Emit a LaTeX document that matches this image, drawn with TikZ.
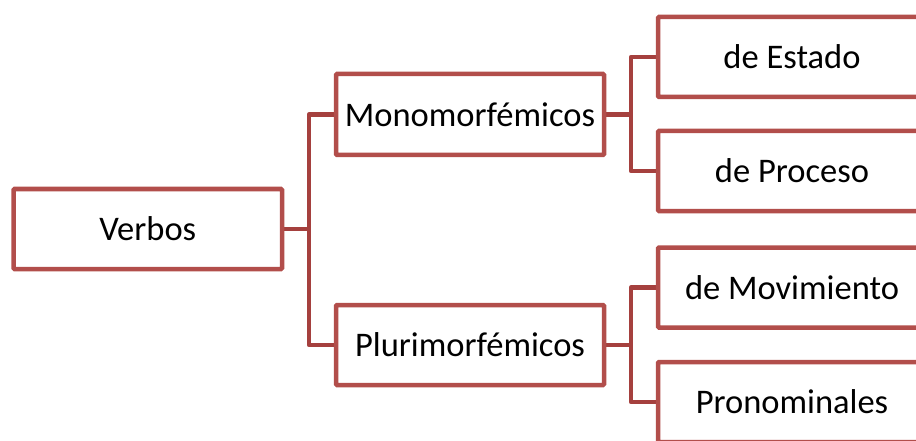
\documentclass[tikz,border=0pt]{standalone}
\usepackage{fontspec}
\setmainfont{Carlito}
\usetikzlibrary{backgrounds}
\definecolor{boxred}{HTML}{B24E4B}
\definecolor{linkred}{HTML}{A5403E}
\begin{document}
\begin{tikzpicture}[x=1pt,y=-1pt,
  box/.style={draw=boxred, line width=4.5pt, fill=white, rounded corners=1pt,
    minimum width=268pt, minimum height=80pt, inner sep=0pt,
    font=\fontsize{34.5}{40}\selectfont, text=black},
  link/.style={draw=linkred, line width=4.5pt, line join=round}]
\useasboundingbox (0,0) rectangle (916,441);

% root
\node[box, minimum width=268.5pt] (verbos) at (147.75,229) {Verbos};

% first level
\node[box, minimum height=81pt] (mono)  at (470,114.5) {Monomorfémicos};
\node[box] (pluri) at (470,345) {Plurimorfémicos};

% second level
\node[box] (estado)  at (792,57)    {de Estado};
\node[box] (proceso) at (792,171)   {de Proceso};
\node[box] (movim)   at (792,287.5) {de Movimiento};
\node[box] (pronom)  at (792,402)   {Pronominales};

% bracket junctions
\coordinate (j0) at (309,229);
\coordinate (j1) at (631,114.5);
\coordinate (j2) at (631,345);

\begin{scope}[on background layer]
  \draw[link] (verbos.east) -- (j0);
  \draw[link] (mono.west) -| (j0) |- (pluri.west);
  \draw[link] (mono.east) -- (j1);
  \draw[link] (estado.west) -| (j1) |- (proceso.west);
  \draw[link] (pluri.east) -- (j2);
  \draw[link] (movim.west) -| (j2) |- (pronom.west);
\end{scope}
\end{tikzpicture}
\end{document}
